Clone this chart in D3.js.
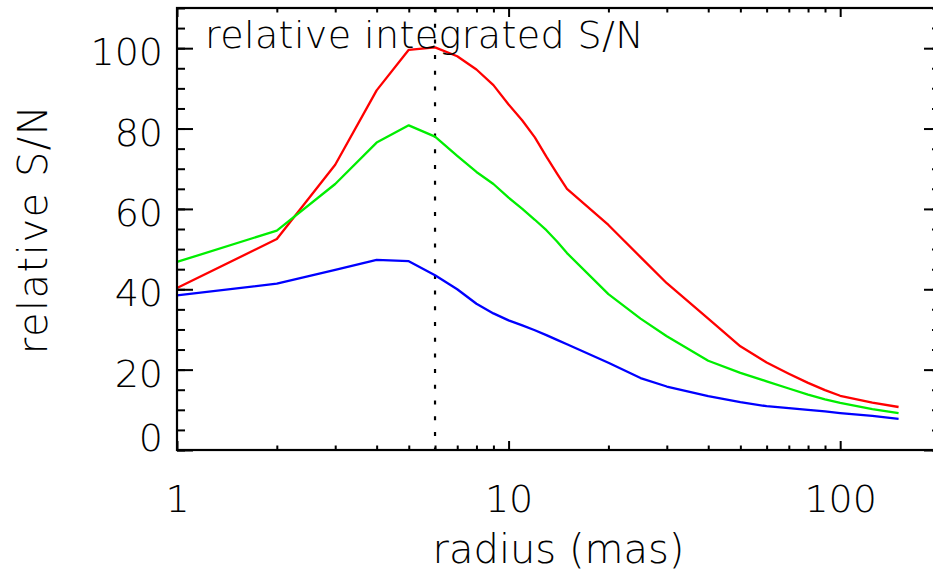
<!doctype html>
<html lang="en">
  <head>
    <meta charset="UTF-8" />
    <title>relative integrated S/N</title>
    <script src="https://cdn.jsdelivr.net/npm/d3@7"></script>
    <style>
      body { margin: 0; background: #fff; }
      svg text { font-family: "DejaVu Sans", sans-serif; font-weight: 200; fill: #000; }
    </style>
  </head>
  <body>
    <div id="chart"></div>
    <script>
      // radius values (mas) and the three curves
      const radius = [1, 2, 3, 4, 5, 6, 7, 8, 9, 10, 11, 12, 13, 14, 15, 20, 25, 30, 40, 50, 60, 70, 80, 90, 100, 125, 150];
      const redSN = [40.3, 52.5, 71, 89.5, 99.6, 100.2, 98, 94.7, 90.8, 86, 82, 77.8, 73, 68.8, 65, 56, 48, 41.5, 32.7, 25.8, 21.8, 19, 16.7, 14.9, 13.5, 11.8, 10.7];
      const greenSN = [46.8, 54.6, 66.2, 76.5, 80.8, 78, 73.2, 69.2, 66.2, 62.8, 60, 57.3, 54.7, 51.9, 49, 38.8, 32.7, 28.3, 22.2, 19.2, 17.1, 15.3, 13.8, 12.6, 11.7, 10.2, 9.2];
      const blueSN = [38.5, 41.4, 44.8, 47.3, 47, 43.5, 40, 36.4, 34, 32.25, 31, 29.8, 28.6, 27.4, 26.3, 21.7, 17.9, 15.8, 13.4, 11.9, 10.9, 10.4, 10, 9.6, 9.2, 8.5, 7.75];
      const xMajor = [1, 10, 100];
      const xMinor = [2, 3, 4, 5, 6, 7, 8, 9, 20, 30, 40, 50, 60, 70, 80, 90, 200];
      const yMajor = [0, 20, 40, 60, 80, 100];
      const yMinor = d3.range(0, 111, 5);
      const peakRadius = 6;

      const width = 933;
      const height = 571;
      const marginLeft = 177;
      const marginTop = 8;
      const plotRight = 940;
      const plotBottom = 450;

      const x = d3.scaleLog().domain([1, 200]).range([marginLeft, plotRight]);
      const y = d3.scaleLinear().domain([0, 110]).range([plotBottom, marginTop]);

      const svg = d3.select("#chart").append("svg")
          .attr("width", width)
          .attr("height", height);

      // dotted line at the peak
      svg.append("line")
          .attr("x1", x(peakRadius)).attr("x2", x(peakRadius))
          .attr("y1", y(110)).attr("y2", y(0))
          .attr("stroke", "#000")
          .attr("stroke-width", 2.2)
          .attr("stroke-dasharray", "4,11.7");

      // curves
      const line = d3.line()
          .x((d) => x(d[0]))
          .y((d) => y(d[1]));

      [[redSN, "#ff0000"], [greenSN, "#00ee00"], [blueSN, "#0000ff"]].forEach(([vals, col]) => {
        svg.append("path")
            .datum(radius.map((r, i) => [r, vals[i]]))
            .attr("fill", "none")
            .attr("stroke", col)
            .attr("stroke-width", 2.3)
            .attr("stroke-linejoin", "round")
            .attr("d", line);
      });

      // ticks on all four sides, pointing inwards
      const tickAxis = (axis, transform) => {
        const g = svg.append("g").attr("transform", transform).call(axis);
        g.select(".domain").remove();
        g.selectAll("line").attr("stroke", "#000").attr("stroke-width", 2);
        return g;
      };

      tickAxis(d3.axisBottom(x).tickValues(xMinor).tickSize(-4.5).tickFormat(""), `translate(0,${plotBottom})`);
      tickAxis(d3.axisTop(x).tickValues(xMinor).tickSize(-4.5).tickFormat(""), `translate(0,${marginTop})`);
      tickAxis(d3.axisTop(x).tickValues(xMajor).tickSize(-9).tickFormat(""), `translate(0,${marginTop})`);
      const xAxis = tickAxis(d3.axisBottom(x).tickValues(xMajor).tickSize(-9).tickFormat(d3.format("d")), `translate(0,${plotBottom})`);
      xAxis.selectAll("text")
          .attr("y", 62)
          .attr("dy", null)
          .attr("font-size", 38)
          .style("font-family", null);

      tickAxis(d3.axisLeft(y).tickValues(yMinor).tickSize(-8).tickFormat(""), `translate(${marginLeft},0)`);
      tickAxis(d3.axisRight(y).tickValues(yMinor).tickSize(-8).tickFormat(""), `translate(${plotRight},0)`);
      tickAxis(d3.axisRight(y).tickValues(yMajor).tickSize(-16).tickFormat(""), `translate(${plotRight},0)`);
      const yAxis = tickAxis(d3.axisLeft(y).tickValues(yMajor).tickSize(-16).tickPadding(14).tickFormat(d3.format("d")), `translate(${marginLeft},0)`);
      yAxis.selectAll("text")
          .attr("font-size", 38)
          .attr("dy", (d) => d === 0 ? "0" : "0.36em")
          .attr("y", (d) => d === 0 ? 0 : 3);

      // frame
      svg.append("rect")
          .attr("x", marginLeft).attr("y", marginTop)
          .attr("width", plotRight - marginLeft)
          .attr("height", plotBottom - marginTop)
          .attr("fill", "none")
          .attr("stroke", "#000")
          .attr("stroke-width", 2.2);

      // texts
      svg.append("text")
          .attr("x", 205).attr("y", 48)
          .attr("font-size", 38)
          .attr("letter-spacing", 0.4)
          .text("relative integrated S/N");

      svg.append("text")
          .attr("x", (marginLeft + plotRight) / 2).attr("y", 563)
          .attr("text-anchor", "middle")
          .attr("font-size", 40)
          .text("radius (mas)");

      svg.append("text")
          .attr("transform", `translate(47,${(marginTop + plotBottom) / 2}) rotate(-90)`)
          .attr("text-anchor", "middle")
          .attr("font-size", 40)
          .attr("letter-spacing", 1.5)
          .text("relative S/N");
    </script>
  </body>
</html>
